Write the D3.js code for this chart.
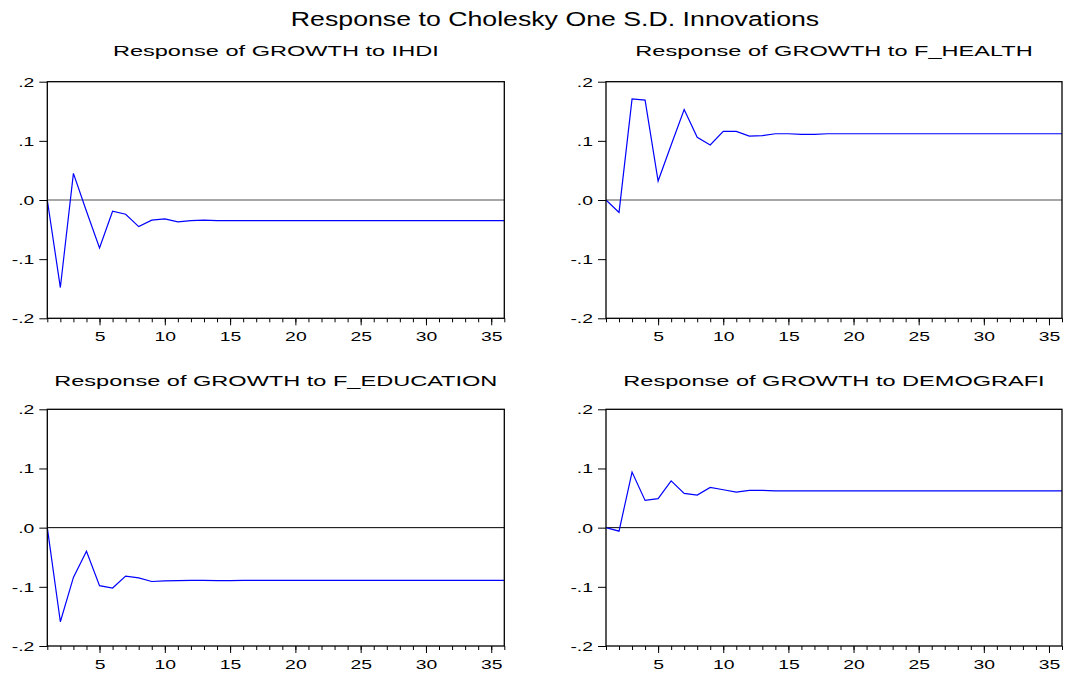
<!DOCTYPE html>
<html>
<head>
<meta charset="utf-8">
<script src="https://cdn.jsdelivr.net/npm/d3@7"></script>
<style>
  html, body { margin: 0; padding: 0; background: #fff; }
  svg { display: block; font-family: "Liberation Sans", Arial, sans-serif; }
</style>
</head>
<body>
<svg id="chart" width="1068" height="673"></svg>
<script>
// Impulse responses of GROWTH, periods 1..36
const periods = d3.range(1, 37);

const respIHDI = [
  0.000, -0.148, 0.045, -0.019, -0.081, -0.019, -0.024, -0.045, -0.034, -0.032,
  -0.037, -0.035, -0.034, -0.035, -0.035, -0.035, -0.035, -0.035, -0.035, -0.035,
  -0.035, -0.035, -0.035, -0.035, -0.035, -0.035, -0.035, -0.035, -0.035, -0.035,
  -0.035, -0.035, -0.035, -0.035, -0.035, -0.035
];
const respHealth = [
  0.000, -0.021, 0.171, 0.169, 0.032, 0.093, 0.153, 0.106, 0.093, 0.116,
  0.116, 0.108, 0.109, 0.112, 0.112, 0.111, 0.111, 0.112, 0.112, 0.112,
  0.112, 0.112, 0.112, 0.112, 0.112, 0.112, 0.112, 0.112, 0.112, 0.112,
  0.112, 0.112, 0.112, 0.112, 0.112, 0.112
];
const respEducation = [
  0.000, -0.159, -0.084, -0.040, -0.098, -0.102, -0.082, -0.085, -0.091, -0.090,
  -0.0895, -0.089, -0.089, -0.0895, -0.0895, -0.089, -0.089, -0.089, -0.089, -0.089,
  -0.089, -0.089, -0.089, -0.089, -0.089, -0.089, -0.089, -0.089, -0.089, -0.089,
  -0.089, -0.089, -0.089, -0.089, -0.089, -0.089
];
const respDemografi = [
  0.000, -0.006, 0.094, 0.046, 0.049, 0.079, 0.058, 0.055, 0.068, 0.064,
  0.060, 0.063, 0.063, 0.062, 0.062, 0.062, 0.062, 0.062, 0.062, 0.062,
  0.062, 0.062, 0.062, 0.062, 0.062, 0.062, 0.062, 0.062, 0.062, 0.062,
  0.062, 0.062, 0.062, 0.062, 0.062, 0.062
];

const panelTitles = [
  "Response of GROWTH to IHDI",
  "Response of GROWTH to F_HEALTH",
  "Response of GROWTH to F_EDUCATION",
  "Response of GROWTH to DEMOGRAFI"
];
const panelSeries = [respIHDI, respHealth, respEducation, respDemografi];

const xTicks = [5, 10, 15, 20, 25, 30, 35];
const yTicks = [0.2, 0.1, 0.0, -0.1, -0.2];
const yTickLabels = [".2", ".1", ".0", "-.1", "-.2"];

const mainTitle = "Response to Cholesky One S.D. Innovations";

// layout
const cols = [{ x0: 47.3, x1: 504.3 }, { x0: 606, x1: 1062 }];
const rows = [{ y0: 81.7, y1: 318.3, title: 55.5 }, { y0: 409.3, y1: 646, title: 386 }];
const zeroStyle = [{ stroke: "#8a8a8a", width: 1.6 }, { stroke: "#000", width: 1 }];

const svg = d3.select("#chart");

// horizontally widened text
function wideText(g, x, y, str, size, sx, anchor) {
  return g.append("text")
    .attr("transform", `translate(${x},${y}) scale(${sx},1)`)
    .attr("text-anchor", anchor)
    .style("font-size", size + "px")
    .attr("fill", "#000")
    .text(str);
}

wideText(svg, 555, 25.7, mainTitle, 19.5, 1.37, "middle");

panelSeries.forEach((series, k) => {
  const c = cols[k % 2], r = rows[Math.floor(k / 2)];
  const x = d3.scaleLinear().domain([1, 36]).range([c.x0, c.x1]);
  const y = d3.scaleLinear().domain([-0.2, 0.2]).range([r.y1, r.y0]);
  const g = svg.append("g");

  wideText(g, (c.x0 + c.x1) / 2, r.title, panelTitles[k], 15.4, 1.53, "middle");

  // zero line
  g.append("line")
    .attr("x1", c.x0).attr("x2", c.x1)
    .attr("y1", y(0)).attr("y2", y(0))
    .attr("stroke", zeroStyle[Math.floor(k / 2)].stroke)
    .attr("stroke-width", zeroStyle[Math.floor(k / 2)].width);

  // response line
  g.append("path")
    .datum(series)
    .attr("fill", "none")
    .attr("stroke", "#0000ff")
    .attr("stroke-width", 1.2)
    .attr("stroke-linejoin", "miter")
    .attr("d", d3.line().x((d, i) => x(periods[i])).y(d => y(d)));

  // y axis
  const ya = g.append("g")
    .attr("transform", `translate(${c.x0},0)`)
    .call(d3.axisLeft(y).tickValues(yTicks).tickFormat((d, i) => yTickLabels[i]).tickSize(8));
  ya.select(".domain").remove();
  ya.selectAll("line").attr("stroke", "#000");
  ya.selectAll("text")
    .attr("x", null).attr("dy", null)
    .attr("transform", "translate(-13,4.5) scale(1.55,1)")
    .style("font-size", "12.5px").attr("font-family", null).attr("fill", "#000");

  // x axis: minor ticks every period, labelled ticks every 5
  const xm = g.append("g")
    .attr("transform", `translate(0,${r.y1})`)
    .call(d3.axisBottom(x).tickValues(periods).tickFormat("").tickSize(4));
  xm.select(".domain").remove();
  xm.selectAll("line").attr("stroke", "#000");

  const xa = g.append("g")
    .attr("transform", `translate(0,${r.y1})`)
    .call(d3.axisBottom(x).tickValues(xTicks).tickFormat(d3.format("d")).tickSize(7));
  xa.select(".domain").remove();
  xa.selectAll("line").attr("stroke", "#000");
  xa.selectAll("text")
    .attr("y", null).attr("dy", null)
    .attr("transform", "translate(0,22.5) scale(1.55,1)")
    .style("font-size", "12.5px").attr("fill", "#000");

  // frame
  g.append("rect")
    .attr("x", c.x0).attr("y", r.y0)
    .attr("width", c.x1 - c.x0).attr("height", r.y1 - r.y0)
    .attr("fill", "none").attr("stroke", "#000").attr("stroke-width", 1.3);
});
</script>
</body>
</html>
